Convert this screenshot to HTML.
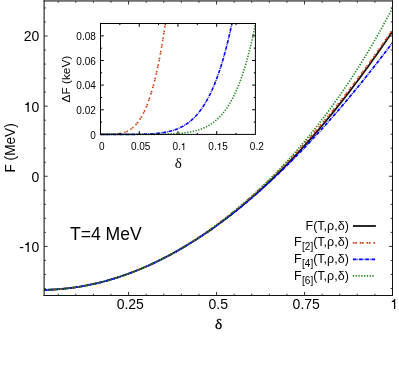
<!DOCTYPE html><html><head><meta charset="utf-8"><style>html,body{margin:0;padding:0;background:#fff}svg{display:block;will-change:transform;opacity:0.999}text{font-family:"Liberation Sans",sans-serif;fill:#000}.s{font-family:"Liberation Serif",serif}</style></head><body>
<svg width="399" height="386" viewBox="0 0 399 386">
<rect width="399" height="386" fill="#fff"/>
<g fill="none" stroke-linecap="butt">
<path d="M44.10 289.86 L46.59 289.81 L49.08 289.73 L51.56 289.63 L54.05 289.50 L56.54 289.35 L59.03 289.17 L61.52 288.96 L64.01 288.73 L66.50 288.47 L68.98 288.19 L71.47 287.88 L73.96 287.55 L76.45 287.18 L78.94 286.80 L81.43 286.38 L83.92 285.94 L86.41 285.48 L88.89 284.99 L91.38 284.47 L93.87 283.93 L96.36 283.36 L98.85 282.76 L101.34 282.14 L103.83 281.50 L106.31 280.82 L108.80 280.13 L111.29 279.40 L113.78 278.65 L116.27 277.88 L118.76 277.08 L121.25 276.25 L123.73 275.40 L126.22 274.52 L128.71 273.62 L131.20 272.69 L133.69 271.74 L136.18 270.76 L138.67 269.75 L141.15 268.72 L143.64 267.67 L146.13 266.59 L148.62 265.48 L151.11 264.35 L153.60 263.19 L156.09 262.01 L158.57 260.80 L161.06 259.57 L163.55 258.31 L166.04 257.03 L168.53 255.72 L171.02 254.39 L173.51 253.03 L175.99 251.64 L178.48 250.24 L180.97 248.80 L183.46 247.35 L185.95 245.86 L188.44 244.35 L190.93 242.82 L193.41 241.26 L195.90 239.68 L198.39 238.08 L200.88 236.44 L203.37 234.79 L205.86 233.10 L208.35 231.40 L210.83 229.67 L213.32 227.91 L215.81 226.13 L218.30 224.32 L220.79 222.49 L223.28 220.64 L225.77 218.75 L228.25 216.85 L230.74 214.92 L233.23 212.96 L235.72 210.98 L238.21 208.97 L240.70 206.94 L243.19 204.88 L245.67 202.79 L248.16 200.68 L250.65 198.54 L253.14 196.38 L255.63 194.19 L258.12 191.97 L260.61 189.73 L263.09 187.46 L265.58 185.17 L268.07 182.84 L270.56 180.49 L273.05 178.11 L275.54 175.71 L278.03 173.28 L280.51 170.82 L283.00 168.33 L285.49 165.81 L287.98 163.27 L290.47 160.70 L292.96 158.10 L295.45 155.47 L297.93 152.81 L300.42 150.13 L302.91 147.42 L305.40 144.68 L307.89 141.91 L310.38 139.11 L312.87 136.29 L315.35 133.44 L317.84 130.55 L320.33 127.65 L322.82 124.71 L325.31 121.74 L327.80 118.75 L330.29 115.73 L332.77 112.69 L335.26 109.61 L337.75 106.51 L340.24 103.38 L342.73 100.22 L345.22 97.04 L347.71 93.82 L350.19 90.59 L352.68 87.32 L355.17 84.03 L357.66 80.71 L360.15 77.36 L362.64 73.99 L365.13 70.59 L367.61 67.16 L370.10 63.71 L372.59 60.23 L375.08 56.73 L377.57 53.20 L380.06 49.64 L382.55 46.05 L385.03 42.44 L387.52 38.81 L390.01 35.15 L392.50 31.46" stroke="#111" stroke-width="1.8"/>
<path d="M44.10 289.86 L46.59 289.81 L49.08 289.73 L51.56 289.63 L54.05 289.50 L56.54 289.35 L59.03 289.17 L61.52 288.96 L64.01 288.73 L66.50 288.47 L68.98 288.19 L71.47 287.88 L73.96 287.54 L76.45 287.18 L78.94 286.79 L81.43 286.38 L83.92 285.94 L86.41 285.47 L88.89 284.98 L91.38 284.46 L93.87 283.92 L96.36 283.35 L98.85 282.75 L101.34 282.13 L103.83 281.48 L106.31 280.81 L108.80 280.11 L111.29 279.38 L113.78 278.63 L116.27 277.85 L118.76 277.05 L121.25 276.22 L123.73 275.36 L126.22 274.48 L128.71 273.57 L131.20 272.63 L133.69 271.67 L136.18 270.69 L138.67 269.67 L141.15 268.64 L143.64 267.57 L146.13 266.48 L148.62 265.36 L151.11 264.22 L153.60 263.05 L156.09 261.86 L158.57 260.64 L161.06 259.39 L163.55 258.12 L166.04 256.82 L168.53 255.49 L171.02 254.14 L173.51 252.77 L175.99 251.36 L178.48 249.93 L180.97 248.48 L183.46 247.00 L185.95 245.49 L188.44 243.96 L190.93 242.40 L193.41 240.81 L195.90 239.20 L198.39 237.57 L200.88 235.90 L203.37 234.21 L205.86 232.50 L208.35 230.76 L210.83 228.99 L213.32 227.20 L215.81 225.38 L218.30 223.53 L220.79 221.66 L223.28 219.76 L225.77 217.84 L228.25 215.89 L230.74 213.92 L233.23 211.91 L235.72 209.89 L238.21 207.83 L240.70 205.75 L243.19 203.65 L245.67 201.52 L248.16 199.36 L250.65 197.18 L253.14 194.97 L255.63 192.73 L258.12 190.47 L260.61 188.18 L263.09 185.87 L265.58 183.53 L268.07 181.16 L270.56 178.77 L273.05 176.35 L275.54 173.91 L278.03 171.44 L280.51 168.94 L283.00 166.42 L285.49 163.87 L287.98 161.30 L290.47 158.70 L292.96 156.08 L295.45 153.42 L297.93 150.75 L300.42 148.04 L302.91 145.31 L305.40 142.56 L307.89 139.77 L310.38 136.97 L312.87 134.13 L315.35 131.27 L317.84 128.39 L320.33 125.47 L322.82 122.54 L325.31 119.57 L327.80 116.58 L330.29 113.56 L332.77 110.52 L335.26 107.45 L337.75 104.36 L340.24 101.24 L342.73 98.09 L345.22 94.92 L347.71 91.72 L350.19 88.50 L352.68 85.25 L355.17 81.97 L357.66 78.67 L360.15 75.34 L362.64 71.99 L365.13 68.61 L367.61 65.20 L370.10 61.77 L372.59 58.31 L375.08 54.82 L377.57 51.31 L380.06 47.78 L382.55 44.21 L385.03 40.63 L387.52 37.01 L390.01 33.37 L392.50 29.70" stroke="#d23a0a" stroke-width="1.7" stroke-dasharray="1.6 0.7 1.6 2.95"/>
<path d="M44.10 289.86 L46.59 289.81 L49.08 289.73 L51.56 289.63 L54.05 289.50 L56.54 289.35 L59.03 289.17 L61.52 288.96 L64.01 288.73 L66.50 288.47 L68.98 288.19 L71.47 287.88 L73.96 287.55 L76.45 287.18 L78.94 286.80 L81.43 286.38 L83.92 285.94 L86.41 285.48 L88.89 284.99 L91.38 284.47 L93.87 283.93 L96.36 283.36 L98.85 282.76 L101.34 282.14 L103.83 281.50 L106.31 280.82 L108.80 280.13 L111.29 279.40 L113.78 278.65 L116.27 277.88 L118.76 277.08 L121.25 276.25 L123.73 275.40 L126.22 274.52 L128.71 273.62 L131.20 272.69 L133.69 271.74 L136.18 270.76 L138.67 269.75 L141.15 268.72 L143.64 267.67 L146.13 266.59 L148.62 265.48 L151.11 264.35 L153.60 263.19 L156.09 262.01 L158.57 260.80 L161.06 259.57 L163.55 258.31 L166.04 257.03 L168.53 255.72 L171.02 254.39 L173.51 253.03 L175.99 251.65 L178.48 250.24 L180.97 248.81 L183.46 247.35 L185.95 245.87 L188.44 244.36 L190.93 242.83 L193.41 241.28 L195.90 239.70 L198.39 238.09 L200.88 236.46 L203.37 234.81 L205.86 233.13 L208.35 231.43 L210.83 229.70 L213.32 227.95 L215.81 226.18 L218.30 224.38 L220.79 222.55 L223.28 220.71 L225.77 218.84 L228.25 216.94 L230.74 215.02 L233.23 213.08 L235.72 211.11 L238.21 209.12 L240.70 207.11 L243.19 205.07 L245.67 203.01 L248.16 200.93 L250.65 198.82 L253.14 196.69 L255.63 194.54 L258.12 192.36 L260.61 190.16 L263.09 187.94 L265.58 185.70 L268.07 183.43 L270.56 181.14 L273.05 178.82 L275.54 176.49 L278.03 174.13 L280.51 171.75 L283.00 169.34 L285.49 166.92 L287.98 164.47 L290.47 162.00 L292.96 159.51 L295.45 156.99 L297.93 154.46 L300.42 151.90 L302.91 149.32 L305.40 146.72 L307.89 144.09 L310.38 141.45 L312.87 138.78 L315.35 136.09 L317.84 133.38 L320.33 130.65 L322.82 127.90 L325.31 125.13 L327.80 122.34 L330.29 119.52 L332.77 116.69 L335.26 113.83 L337.75 110.96 L340.24 108.06 L342.73 105.14 L345.22 102.21 L347.71 99.25 L350.19 96.27 L352.68 93.27 L355.17 90.26 L357.66 87.22 L360.15 84.16 L362.64 81.09 L365.13 77.99 L367.61 74.87 L370.10 71.74 L372.59 68.59 L375.08 65.41 L377.57 62.22 L380.06 59.01 L382.55 55.78 L385.03 52.53 L387.52 49.27 L390.01 45.98 L392.50 42.68" stroke="#0000ff" stroke-width="1.7" stroke-dasharray="3.6 0.9 0.8 0.9"/>
<path d="M44.10 289.86 L46.59 289.81 L49.08 289.73 L51.56 289.63 L54.05 289.50 L56.54 289.35 L59.03 289.17 L61.52 288.96 L64.01 288.73 L66.50 288.47 L68.98 288.19 L71.47 287.88 L73.96 287.55 L76.45 287.18 L78.94 286.80 L81.43 286.38 L83.92 285.94 L86.41 285.48 L88.89 284.99 L91.38 284.47 L93.87 283.93 L96.36 283.36 L98.85 282.76 L101.34 282.14 L103.83 281.49 L106.31 280.82 L108.80 280.12 L111.29 279.40 L113.78 278.65 L116.27 277.87 L118.76 277.07 L121.25 276.25 L123.73 275.39 L126.22 274.52 L128.71 273.61 L131.20 272.68 L133.69 271.72 L136.18 270.74 L138.67 269.74 L141.15 268.70 L143.64 267.64 L146.13 266.56 L148.62 265.45 L151.11 264.31 L153.60 263.15 L156.09 261.96 L158.57 260.75 L161.06 259.51 L163.55 258.25 L166.04 256.96 L168.53 255.64 L171.02 254.30 L173.51 252.93 L175.99 251.53 L178.48 250.11 L180.97 248.67 L183.46 247.19 L185.95 245.70 L188.44 244.17 L190.93 242.62 L193.41 241.04 L195.90 239.44 L198.39 237.81 L200.88 236.15 L203.37 234.47 L205.86 232.76 L208.35 231.02 L210.83 229.25 L213.32 227.46 L215.81 225.64 L218.30 223.80 L220.79 221.92 L223.28 220.02 L225.77 218.10 L228.25 216.14 L230.74 214.15 L233.23 212.14 L235.72 210.10 L238.21 208.03 L240.70 205.93 L243.19 203.81 L245.67 201.65 L248.16 199.46 L250.65 197.25 L253.14 195.00 L255.63 192.73 L258.12 190.42 L260.61 188.08 L263.09 185.72 L265.58 183.32 L268.07 180.89 L270.56 178.42 L273.05 175.93 L275.54 173.40 L278.03 170.84 L280.51 168.25 L283.00 165.62 L285.49 162.96 L287.98 160.26 L290.47 157.53 L292.96 154.77 L295.45 151.96 L297.93 149.13 L300.42 146.25 L302.91 143.34 L305.40 140.39 L307.89 137.40 L310.38 134.37 L312.87 131.30 L315.35 128.20 L317.84 125.05 L320.33 121.86 L322.82 118.63 L325.31 115.35 L327.80 112.04 L330.29 108.68 L332.77 105.27 L335.26 101.82 L337.75 98.32 L340.24 94.78 L342.73 91.18 L345.22 87.54 L347.71 83.85 L350.19 80.11 L352.68 76.32 L355.17 72.47 L357.66 68.57 L360.15 64.62 L362.64 60.61 L365.13 56.55 L367.61 52.43 L370.10 48.25 L372.59 44.01 L375.08 39.71 L377.57 35.35 L380.06 30.93 L382.55 26.44 L385.03 21.89 L387.52 17.27 L390.01 12.58 L392.50 7.82" stroke="#228b22" stroke-width="1.7" stroke-dasharray="1.3 1.5"/>
</g>
<g fill="none">
<path d="M44.10 0.45 V296.00" stroke="#000" stroke-width="1.0"/>
<path d="M43.60 0.95 H393.00" stroke="#000" stroke-width="1.0"/>
<path d="M392.50 0.45 V296.00" stroke="#111" stroke-width="1.0"/>
<path d="M43.60 295.50 H393.00" stroke="#111" stroke-width="1.0"/>
</g>
<g stroke="#222" stroke-width="0.9" fill="none">
<path d="M58.18 295.50 v-1.80 M58.18 0.95 v1.80 M75.77 295.50 v-1.80 M75.77 0.95 v1.80 M93.37 295.50 v-1.80 M93.37 0.95 v1.80 M110.96 295.50 v-1.80 M110.96 0.95 v1.80 M128.56 295.50 v-3.60 M128.56 0.95 v3.60 M146.16 295.50 v-1.80 M146.16 0.95 v1.80 M163.75 295.50 v-1.80 M163.75 0.95 v1.80 M181.35 295.50 v-1.80 M181.35 0.95 v1.80 M198.94 295.50 v-1.80 M198.94 0.95 v1.80 M216.54 295.50 v-3.60 M216.54 0.95 v3.60 M234.14 295.50 v-1.80 M234.14 0.95 v1.80 M251.73 295.50 v-1.80 M251.73 0.95 v1.80 M269.33 295.50 v-1.80 M269.33 0.95 v1.80 M286.92 295.50 v-1.80 M286.92 0.95 v1.80 M304.52 295.50 v-3.60 M304.52 0.95 v3.60 M322.12 295.50 v-1.80 M322.12 0.95 v1.80 M339.71 295.50 v-1.80 M339.71 0.95 v1.80 M357.31 295.50 v-1.80 M357.31 0.95 v1.80 M374.90 295.50 v-1.80 M374.90 0.95 v1.80 M44.10 288.48 h1.80 M392.50 288.48 h-1.80 M44.10 274.46 h1.80 M392.50 274.46 h-1.80 M44.10 260.43 h1.80 M392.50 260.43 h-1.80 M44.10 246.40 h3.60 M392.50 246.40 h-3.60 M44.10 232.38 h1.80 M392.50 232.38 h-1.80 M44.10 218.35 h1.80 M392.50 218.35 h-1.80 M44.10 204.33 h1.80 M392.50 204.33 h-1.80 M44.10 190.30 h1.80 M392.50 190.30 h-1.80 M44.10 176.27 h3.60 M392.50 176.27 h-3.60 M44.10 162.25 h1.80 M392.50 162.25 h-1.80 M44.10 148.22 h1.80 M392.50 148.22 h-1.80 M44.10 134.20 h1.80 M392.50 134.20 h-1.80 M44.10 120.17 h1.80 M392.50 120.17 h-1.80 M44.10 106.14 h3.60 M392.50 106.14 h-3.60 M44.10 92.12 h1.80 M392.50 92.12 h-1.80 M44.10 78.09 h1.80 M392.50 78.09 h-1.80 M44.10 64.07 h1.80 M392.50 64.07 h-1.80 M44.10 50.04 h1.80 M392.50 50.04 h-1.80 M44.10 36.02 h3.60 M392.50 36.02 h-3.60 M44.10 21.99 h1.80 M392.50 21.99 h-1.80 M44.10 7.96 h1.80 M392.50 7.96 h-1.80"/>
</g>
<text x="23.83" y="41.41" font-size="14">20</text>
<path d="M28.76 112.00 L28.76 102.07 L27.86 102.07 C27.58 103.04 26.84 103.71 25.30 103.96 L25.30 104.90 L27.50 104.90 L27.50 112.00 Z" fill="#000"/><text x="31.62" y="111.55" font-size="14">0</text>
<text x="31.62" y="181.67" font-size="14">0</text>
<text x="19.17" y="251.80" font-size="14">-</text><path d="M28.76 252.00 L28.76 242.07 L27.86 242.07 C27.58 243.04 26.84 243.71 25.30 243.96 L25.30 244.90 L27.50 244.90 L27.50 252.00 Z" fill="#000"/><text x="31.62" y="251.80" font-size="14">0</text>
<text x="116.64" y="309.20" font-size="14">0.25</text>
<text x="208.51" y="309.20" font-size="14">0.5</text>
<text x="292.60" y="309.20" font-size="14">0.75</text>
<path d="M395.24 309.00 L395.24 299.07 L394.34 299.07 C394.06 300.04 393.32 300.71 391.78 300.96 L391.78 301.90 L393.98 301.90 L393.98 309.00 Z" fill="#000"/>
<text class="s" x="218.5" y="329.0" font-size="15.3" text-anchor="middle" stroke="#000" stroke-width="0.3">δ</text>
<text transform="translate(14.7,147.9) rotate(-90)" font-size="13.8" text-anchor="middle" textLength="49.2" lengthAdjust="spacingAndGlyphs">F (MeV)</text>
<text x="69.9" y="240.0" font-size="17.6">T=4 MeV</text>
<text x="348.8" y="229.70" font-size="12.5" text-anchor="end">F(T,ρ,δ)</text>
<text x="348.8" y="246.40" font-size="12.5" text-anchor="end">F<tspan dx="0.5" dy="4.0" font-size="10">[2]</tspan><tspan dy="-4.0">(T,ρ,δ)</tspan></text>
<text x="348.8" y="263.10" font-size="12.5" text-anchor="end">F<tspan dx="0.5" dy="4.0" font-size="10">[4]</tspan><tspan dy="-4.0">(T,ρ,δ)</tspan></text>
<text x="348.8" y="279.80" font-size="12.5" text-anchor="end">F<tspan dx="0.5" dy="4.0" font-size="10">[6]</tspan><tspan dy="-4.0">(T,ρ,δ)</tspan></text>
<g fill="none">
<path d="M352.9 226 H375.9" stroke="#111" stroke-width="1.8"/>
<path d="M352.9 242.8 H375.6" stroke="#d23a0a" stroke-width="1.7" stroke-dasharray="1.6 0.7 1.6 2.95"/>
<path d="M352.9 259.4 H375.6" stroke="#0000ff" stroke-width="1.7" stroke-dasharray="3.6 0.9 0.8 0.9"/>
<path d="M352.8 275.9 H374.4" stroke="#228b22" stroke-width="1.7" stroke-dasharray="1.3 1.5"/>
</g>
<rect x="100.50" y="23.50" width="154.90" height="110.90" fill="#fff"/>
<g fill="none">
<path d="M100.50 134.40 L101.20 134.40 L101.91 134.40 L102.61 134.40 L103.32 134.40 L104.02 134.40 L104.72 134.40 L105.43 134.40 L106.13 134.39 L106.84 134.39 L107.54 134.38 L108.25 134.38 L108.95 134.37 L109.65 134.36 L110.36 134.34 L111.06 134.32 L111.77 134.30 L112.47 134.27 L113.17 134.24 L113.88 134.20 L114.58 134.15 L115.29 134.10 L115.99 134.04 L116.69 133.97 L117.40 133.89 L118.10 133.80 L118.81 133.70 L119.51 133.58 L120.21 133.45 L120.92 133.31 L121.62 133.15 L122.33 132.98 L123.03 132.79 L123.73 132.57 L124.44 132.34 L125.14 132.09 L125.85 131.81 L126.55 131.52 L127.26 131.19 L127.96 130.84 L128.66 130.46 L129.37 130.05 L130.07 129.61 L130.78 129.14 L131.48 128.63 L132.18 128.09 L132.89 127.51 L133.59 126.89 L134.30 126.23 L135.00 125.53 L135.70 124.78 L136.41 123.99 L137.11 123.15 L137.82 122.26 L138.52 121.31 L139.22 120.32 L139.93 119.26 L140.63 118.15 L141.34 116.98 L142.04 115.75 L142.75 114.45 L143.45 113.09 L144.15 111.66 L144.86 110.16 L145.56 108.58 L146.27 106.93 L146.97 105.20 L147.67 103.39 L148.38 101.49 L149.08 99.51 L149.79 97.45 L150.49 95.29 L151.19 93.04 L151.90 90.69 L152.60 88.25 L153.31 85.70 L154.01 83.05 L154.72 80.30 L155.42 77.43 L156.12 74.45 L156.83 71.36 L157.53 68.15 L158.24 64.82 L158.94 61.36 L159.64 57.77 L160.35 54.06 L161.05 50.21 L161.76 46.23 L162.46 42.10 L163.16 37.84 L163.87 33.42 L164.57 28.86 L165.28 24.14 L165.37 23.50" stroke="#d23a0a" stroke-width="1.6" stroke-dasharray="1.6 0.7 1.6 2.95" stroke-dashoffset="-3.3"/>
<path d="M100.50 134.40 L101.20 134.40 L101.91 134.40 L102.61 134.40 L103.32 134.40 L104.02 134.40 L104.72 134.40 L105.43 134.40 L106.13 134.40 L106.84 134.40 L107.54 134.40 L108.25 134.40 L108.95 134.40 L109.65 134.40 L110.36 134.40 L111.06 134.40 L111.77 134.40 L112.47 134.40 L113.17 134.40 L113.88 134.40 L114.58 134.40 L115.29 134.40 L115.99 134.40 L116.69 134.40 L117.40 134.40 L118.10 134.40 L118.81 134.40 L119.51 134.40 L120.21 134.40 L120.92 134.40 L121.62 134.40 L122.33 134.40 L123.03 134.39 L123.73 134.39 L124.44 134.39 L125.14 134.39 L125.85 134.39 L126.55 134.39 L127.26 134.38 L127.96 134.38 L128.66 134.38 L129.37 134.38 L130.07 134.37 L130.78 134.37 L131.48 134.37 L132.18 134.36 L132.89 134.36 L133.59 134.35 L134.30 134.34 L135.00 134.34 L135.70 134.33 L136.41 134.32 L137.11 134.31 L137.82 134.30 L138.52 134.29 L139.22 134.28 L139.93 134.27 L140.63 134.25 L141.34 134.24 L142.04 134.22 L142.75 134.20 L143.45 134.18 L144.15 134.16 L144.86 134.14 L145.56 134.12 L146.27 134.09 L146.97 134.06 L147.67 134.04 L148.38 134.00 L149.08 133.97 L149.79 133.93 L150.49 133.90 L151.19 133.86 L151.90 133.81 L152.60 133.77 L153.31 133.72 L154.01 133.66 L154.72 133.61 L155.42 133.55 L156.12 133.49 L156.83 133.42 L157.53 133.35 L158.24 133.27 L158.94 133.20 L159.64 133.11 L160.35 133.02 L161.05 132.93 L161.76 132.83 L162.46 132.73 L163.16 132.62 L163.87 132.51 L164.57 132.39 L165.28 132.26 L165.98 132.13 L166.68 131.99 L167.39 131.84 L168.09 131.69 L168.80 131.53 L169.50 131.36 L170.20 131.18 L170.91 130.99 L171.61 130.80 L172.32 130.60 L173.02 130.38 L173.73 130.16 L174.43 129.93 L175.13 129.69 L175.84 129.43 L176.54 129.17 L177.25 128.89 L177.95 128.60 L178.65 128.30 L179.36 127.99 L180.06 127.66 L180.77 127.32 L181.47 126.97 L182.17 126.60 L182.88 126.22 L183.58 125.82 L184.29 125.41 L184.99 124.98 L185.69 124.53 L186.40 124.07 L187.10 123.59 L187.81 123.09 L188.51 122.57 L189.22 122.03 L189.92 121.47 L190.62 120.90 L191.33 120.30 L192.03 119.68 L192.74 119.03 L193.44 118.37 L194.14 117.68 L194.85 116.96 L195.55 116.22 L196.26 115.46 L196.96 114.67 L197.66 113.85 L198.37 113.01 L199.07 112.13 L199.78 111.23 L200.48 110.30 L201.19 109.34 L201.89 108.34 L202.59 107.32 L203.30 106.26 L204.00 105.17 L204.71 104.04 L205.41 102.88 L206.11 101.68 L206.82 100.44 L207.52 99.17 L208.23 97.85 L208.93 96.50 L209.63 95.11 L210.34 93.67 L211.04 92.19 L211.75 90.67 L212.45 89.11 L213.15 87.49 L213.86 85.83 L214.56 84.13 L215.27 82.37 L215.97 80.56 L216.68 78.71 L217.38 76.80 L218.08 74.83 L218.79 72.81 L219.49 70.74 L220.20 68.61 L220.90 66.42 L221.60 64.17 L222.31 61.87 L223.01 59.49 L223.72 57.06 L224.42 54.56 L225.12 52.00 L225.83 49.37 L226.53 46.67 L227.24 43.90 L227.94 41.05 L228.64 38.14 L229.35 35.15 L230.05 32.09 L230.76 28.94 L231.46 25.72 L231.94 23.50" stroke="#0000ff" stroke-width="1.6" stroke-dasharray="3.6 0.9 0.8 0.9"/>
<path d="M100.50 134.40 L101.21 134.40 L101.91 134.40 L102.62 134.40 L103.32 134.40 L104.03 134.40 L104.74 134.40 L105.44 134.40 L106.15 134.40 L106.85 134.40 L107.56 134.40 L108.26 134.40 L108.97 134.40 L109.68 134.40 L110.38 134.40 L111.09 134.40 L111.79 134.40 L112.50 134.40 L113.21 134.40 L113.91 134.40 L114.62 134.40 L115.32 134.40 L116.03 134.40 L116.73 134.40 L117.44 134.40 L118.15 134.40 L118.85 134.40 L119.56 134.40 L120.26 134.40 L120.97 134.40 L121.68 134.40 L122.38 134.40 L123.09 134.40 L123.79 134.40 L124.50 134.40 L125.20 134.40 L125.91 134.40 L126.62 134.40 L127.32 134.40 L128.03 134.40 L128.73 134.40 L129.44 134.40 L130.15 134.40 L130.85 134.40 L131.56 134.40 L132.26 134.40 L132.97 134.40 L133.68 134.40 L134.38 134.40 L135.09 134.40 L135.79 134.40 L136.50 134.40 L137.20 134.40 L137.91 134.39 L138.62 134.39 L139.32 134.39 L140.03 134.39 L140.73 134.39 L141.44 134.39 L142.15 134.39 L142.85 134.39 L143.56 134.39 L144.26 134.38 L144.97 134.38 L145.67 134.38 L146.38 134.38 L147.09 134.38 L147.79 134.37 L148.50 134.37 L149.20 134.37 L149.91 134.36 L150.62 134.36 L151.32 134.35 L152.03 134.35 L152.73 134.35 L153.44 134.34 L154.14 134.33 L154.85 134.33 L155.56 134.32 L156.26 134.31 L156.97 134.31 L157.67 134.30 L158.38 134.29 L159.09 134.28 L159.79 134.27 L160.50 134.26 L161.20 134.24 L161.91 134.23 L162.61 134.22 L163.32 134.20 L164.03 134.19 L164.73 134.17 L165.44 134.15 L166.14 134.13 L166.85 134.11 L167.56 134.09 L168.26 134.06 L168.97 134.04 L169.67 134.01 L170.38 133.98 L171.09 133.95 L171.79 133.92 L172.50 133.88 L173.20 133.85 L173.91 133.81 L174.61 133.77 L175.32 133.73 L176.03 133.68 L176.73 133.63 L177.44 133.58 L178.14 133.53 L178.85 133.47 L179.56 133.41 L180.26 133.34 L180.97 133.28 L181.67 133.21 L182.38 133.13 L183.08 133.05 L183.79 132.97 L184.50 132.88 L185.20 132.79 L185.91 132.70 L186.61 132.59 L187.32 132.49 L188.03 132.38 L188.73 132.26 L189.44 132.14 L190.14 132.01 L190.85 131.87 L191.55 131.73 L192.26 131.58 L192.97 131.43 L193.67 131.27 L194.38 131.10 L195.08 130.92 L195.79 130.73 L196.50 130.54 L197.20 130.33 L197.91 130.12 L198.61 129.90 L199.32 129.67 L200.03 129.43 L200.73 129.17 L201.44 128.91 L202.14 128.64 L202.85 128.35 L203.55 128.05 L204.26 127.74 L204.97 127.42 L205.67 127.08 L206.38 126.73 L207.08 126.37 L207.79 125.99 L208.50 125.59 L209.20 125.18 L209.91 124.75 L210.61 124.31 L211.32 123.85 L212.02 123.37 L212.73 122.87 L213.44 122.35 L214.14 121.81 L214.85 121.26 L215.55 120.68 L216.26 120.08 L216.97 119.45 L217.67 118.81 L218.38 118.14 L219.08 117.45 L219.79 116.73 L220.49 115.98 L221.20 115.21 L221.91 114.41 L222.61 113.58 L223.32 112.72 L224.02 111.84 L224.73 110.92 L225.44 109.97 L226.14 108.99 L226.85 107.97 L227.55 106.92 L228.26 105.83 L228.96 104.71 L229.67 103.55 L230.38 102.35 L231.08 101.11 L231.79 99.83 L232.49 98.51 L233.20 97.14 L233.91 95.73 L234.61 94.28 L235.32 92.77 L236.02 91.23 L236.73 89.63 L237.44 87.98 L238.14 86.28 L238.85 84.52 L239.55 82.71 L240.26 80.85 L240.96 78.93 L241.67 76.94 L242.38 74.90 L243.08 72.80 L243.79 70.63 L244.49 68.40 L245.20 66.10 L245.91 63.74 L246.61 61.30 L247.32 58.79 L248.02 56.21 L248.73 53.55 L249.43 50.82 L250.14 48.01 L250.85 45.11 L251.55 42.14 L252.26 39.08 L252.96 35.93 L253.67 32.70 L254.38 29.37 L255.08 25.95 L255.57 23.50" stroke="#228b22" stroke-width="1.6" stroke-dasharray="1.3 1.5"/>
</g>
<g stroke="#000" stroke-width="1" fill="none">
<rect x="100.50" y="23.50" width="154.90" height="110.90"/>
<path d="M119.86 134.40 v-1.60 M119.86 23.50 v1.60 M139.22 134.40 v-3.30 M139.22 23.50 v3.30 M158.59 134.40 v-1.60 M158.59 23.50 v1.60 M177.95 134.40 v-3.30 M177.95 23.50 v3.30 M197.31 134.40 v-1.60 M197.31 23.50 v1.60 M216.68 134.40 v-3.30 M216.68 23.50 v3.30 M236.04 134.40 v-1.60 M236.04 23.50 v1.60 M100.50 122.08 h1.60 M255.40 122.08 h-1.60 M100.50 109.76 h3.30 M255.40 109.76 h-3.30 M100.50 97.44 h1.60 M255.40 97.44 h-1.60 M100.50 85.12 h3.30 M255.40 85.12 h-3.30 M100.50 72.80 h1.60 M255.40 72.80 h-1.60 M100.50 60.48 h3.30 M255.40 60.48 h-3.30 M100.50 48.16 h1.60 M255.40 48.16 h-1.60 M100.50 35.84 h3.30 M255.40 35.84 h-3.30"/>
</g>
<text x="90.24" y="138.70" font-size="10">0</text>
<text x="76.34" y="114.06" font-size="10">0.02</text>
<text x="76.34" y="89.42" font-size="10">0.04</text>
<text x="76.34" y="64.78" font-size="10">0.06</text>
<text x="76.34" y="40.14" font-size="10">0.08</text>
<text x="99.12" y="149.60" font-size="10">0</text>
<text x="130.90" y="149.60" font-size="10">0.05</text>
<text x="172.40" y="149.60" font-size="10">0.</text><path d="M184.26 150.00 L184.26 142.91 L183.62 142.91 C183.42 143.60 182.89 144.08 181.79 144.26 L181.79 144.93 L183.36 144.93 L183.36 150.00 Z" fill="#000"/>
<text x="208.35" y="149.60" font-size="10">0.</text><path d="M220.21 150.00 L220.21 142.91 L219.57 142.91 C219.37 143.60 218.84 144.08 217.74 144.26 L217.74 144.93 L219.31 144.93 L219.31 150.00 Z" fill="#000"/><text x="222.25" y="149.60" font-size="10">5</text>
<text x="249.85" y="149.60" font-size="10">0.2</text>
<text class="s" x="178.3" y="168.4" font-size="15" text-anchor="middle">δ</text>
<text transform="translate(70.2,79.1) rotate(-90)" font-size="11.3" text-anchor="middle" textLength="46.6" lengthAdjust="spacingAndGlyphs">ΔF (keV)</text>
</svg></body></html>
